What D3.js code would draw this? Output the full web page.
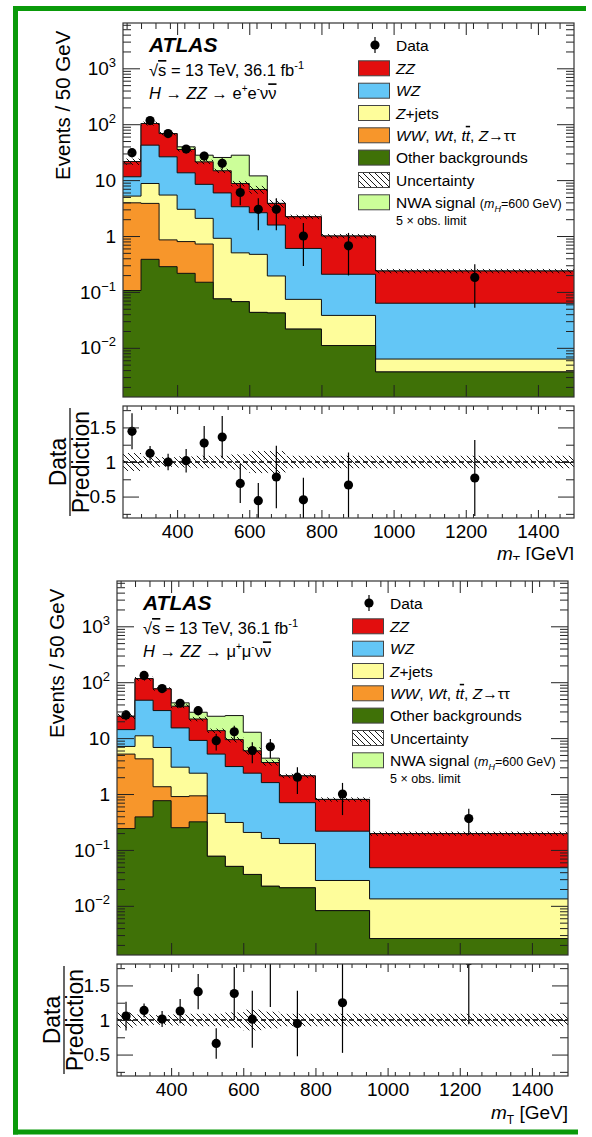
<!DOCTYPE html>
<html>
<head>
<meta charset="utf-8">
<script src="https://cdn.jsdelivr.net/npm/d3@7"></script>
<style>
  body { margin: 0; background: #fff; }
  svg text { font-family: "Liberation Sans", Arial, Helvetica, sans-serif; fill: #000; }
</style>
</head>
<body>
<svg id="chart" width="592" height="1137"></svg>
<script>
// ---------- binning (GeV) ----------
const binEdges = [250, 300, 350, 400, 450, 500, 550, 600, 650, 700, 800, 950, 1500];

// ---------- ee channel: events / 50 GeV ----------
const eeOther  = [0.106, 0.383, 0.283, 0.215, 0.149, 0.075, 0.067, 0.043, 0.042, 0.0216, 0.011, 0.0037];
const eeTopBkg = [3.82, 3.45, 0.57, 0.58, 0.57, 0, 0, 0, 0, 0, 0, 0];
const eeZjets  = [1.25, 4.87, 4.55, 2.21, 1.35, 0.835, 0.433, 0.427, 0.151, 0.052, 0.027, 0.0026];
const eeWZ     = [6.3, 33.5, 20.7, 10.5, 6.33, 4.99, 2.84, 2.14, 1.38, 0.526, 0.169, 0.0565];
const eeZZ     = [10.0, 60.8, 41.9, 21.8, 12.8, 8.8, 5.36, 4.19, 2.26, 1.61, 0.793, 0.174];
const eeSignal = [0, 0, 0, 4.1, 6.7, 10.7, 19.2, 5.1, 0, 0, 0, 0];
const eeUnc    = [0.13, 0.08, 0.07, 0.08, 0.09, 0.09, 0.11, 0.16, 0.16, 0.09, 0.09, 0.09];
const eeData   = [31, 116, 68, 36, 27, 20, 6, 3, 3, 1.0, 0.667, 0.182];
const eeDataErr = [5.6, 10.8, 8.2, 6.0, 5.2, 4.5, 2.45, 1.73, 1.73, 0.71, 0.47, 0.13];

// ---------- mumu channel: events / 50 GeV ----------
const mmOther  = [0.241, 0.39, 0.76, 0.25, 0.318, 0.077, 0.0507, 0.0364, 0.0224, 0.021, 0.0082, 0.0026];
const mmTopBkg = [4.94, 3.87, 0.59, 0.65, 0.61, 0, 0, 0, 0, 0, 0, 0];
const mmZjets  = [1.92, 6.74, 5.45, 2.12, 1.43, 0.373, 0.259, 0.169, 0.138, 0.109, 0.0202, 0.0107];
const mmWZ     = [7.1, 36.6, 24.3, 12.2, 6.74, 4.73, 2.79, 2.155, 1.44, 0.57, 0.188, 0.0347];
const mmZZ     = [10.4, 68.4, 44.9, 22.0, 12.9, 8.42, 6.3, 3.57, 2.06, 1.41, 0.584, 0.148];
const mmSignal = [0, 0, 0, 5.5, 7.0, 11.0, 15.9, 6.8, 0.72, 0, 0, 0];
const mmUnc    = [0.11, 0.08, 0.07, 0.08, 0.09, 0.09, 0.11, 0.15, 0.12, 0.09, 0.09, 0.09];
const mmData   = [26, 132, 77, 42, 31, 9, 13, 6, 7, 2.0, 1.0, 0.364];
const mmDataErr = [5.1, 11.5, 8.8, 6.5, 5.6, 3.0, 3.6, 2.45, 2.65, 1.0, 0.58, 0.18];

// ---------- axes ----------
const xDomain = [250, 1500];
const xMajorTicks = [400, 600, 800, 1000, 1200, 1400];
const yMainTicks = [1e-2, 1e-1, 1, 10, 100, 1000];
const ratioTicks = [0.5, 1, 1.5];
const ratioMinorTicks = [0.25, 0.75, 1.25, 1.75];

// ---------- colours ----------
const colOther = "#3f7107", colTop = "#f7962b", colZjets = "#fefd9b",
      colWZ = "#63c6f6", colZZ = "#e20e0e", colSignal = "#ccfe99";

const svg = d3.select("#chart");
const defs = svg.append("defs");
const hatch = defs.append("pattern").attr("id", "hatch")
  .attr("patternUnits", "userSpaceOnUse").attr("width", 6).attr("height", 6);
hatch.append("path").attr("d", "M-1,-1L7,7M5,-1L7,1M-1,5L1,7")
  .attr("stroke", "#000").attr("stroke-width", 0.9);

// green border
const border = svg.append("g").attr("fill", "none").attr("stroke", "#0a9a0a").attr("stroke-width", 5);
border.append("line").attr("x1", 15.5).attr("y1", 6).attr("x2", 15.5).attr("y2", 1134.5);
border.append("line").attr("x1", 13).attr("y1", 8.5).attr("x2", 586).attr("y2", 8.5);
border.append("line").attr("x1", 13).attr("y1", 1132).attr("x2", 578).attr("y2", 1132);

// rich-text helper: segments of [text, flags]
function rich(parent, x, y, size, segs, anchor) {
  const t = parent.append("text").attr("x", x).attr("y", y)
    .attr("font-size", size).attr("text-anchor", anchor || "start");
  let shift = 0;
  segs.forEach(([s, f = {}]) => {
    const sp = t.append("tspan").text(s);
    let target = 0;
    if (f.sup) target = -size * 0.42;
    if (f.sub) target = size * 0.25;
    if (target !== shift) { sp.attr("dy", target - shift); shift = target; }
    if (f.size || f.sup || f.sub) sp.attr("font-size", f.size || size * 0.65);
    if (f.i) sp.attr("font-style", "italic");
    if (f.b) sp.attr("font-weight", "bold");
    if (f.ov) sp.style("text-decoration", "overline");
  });
  return t;
}

function drawPanel(cfg) {
  const W = 451, H = 374, R0 = 383, RH = 112;
  const g = svg.append("g").attr("transform", `translate(${cfg.x0},${cfg.y0})`);
  if (cfg.clip) g.attr("clip-path", `url(#${cfg.clip})`);
  const x = d3.scaleLinear().domain(xDomain).range([0, W]);
  const y = d3.scaleLog().domain([1.32e-3, 6.46e3]).range([H, 0]);
  const yr = d3.scaleLinear().domain([0.19, 1.81]).range([RH, 0]);

  const nb = cfg.zz.length;
  const comps = [cfg.other, cfg.topbkg, cfg.zjets, cfg.wz, cfg.zz];
  const cum = [];
  let run = new Array(nb).fill(0);
  comps.forEach(c => { run = run.map((v, i) => v + c[i]); cum.push(run.slice()); });
  const total = cum[cum.length - 1];
  const withSig = total.map((v, i) => v + cfg.signal[i]);

  const stepArea = vals => {
    let d = `M${x(binEdges[0])},${H}`;
    vals.forEach((v, i) => { d += `V${y(v)}H${x(binEdges[i + 1])}`; });
    return d + `V${H}Z`;
  };
  const stepLine = vals => {
    let d = "";
    vals.forEach((v, i) => { d += (i === 0 ? `M${x(binEdges[0])},${y(v)}` : `V${y(v)}`) + `H${x(binEdges[i + 1])}`; });
    return d;
  };

  const main = g.append("g");
  const layers = [
    [withSig, colSignal], [cum[4], colZZ], [cum[3], colWZ],
    [cum[2], colZjets], [cum[1], colTop], [cum[0], colOther]
  ];
  layers.forEach(([vals, col]) => {
    main.append("path").attr("d", stepArea(vals)).attr("fill", col);
    main.append("path").attr("d", stepLine(vals)).attr("fill", "none")
      .attr("stroke", "#111").attr("stroke-width", 1);
  });

  // uncertainty band on total background
  main.selectAll("rect.unc").data(total).join("rect")
    .attr("x", (d, i) => x(binEdges[i])).attr("width", (d, i) => x(binEdges[i + 1]) - x(binEdges[i]))
    .attr("y", (d, i) => y(d * (1 + cfg.unc[i])))
    .attr("height", (d, i) => y(d * (1 - cfg.unc[i])) - y(d * (1 + cfg.unc[i])))
    .attr("fill", "url(#hatch)");

  // data points
  const centers = binEdges.slice(0, -1).map((e, i) => (e + binEdges[i + 1]) / 2);
  const pts = main.append("g");
  cfg.data.forEach((v, i) => {
    pts.append("line").attr("x1", x(centers[i])).attr("x2", x(centers[i]))
      .attr("y1", y(v + cfg.err[i])).attr("y2", y(Math.max(v - cfg.err[i], 1e-4)))
      .attr("stroke", "#000").attr("stroke-width", 1.2);
    pts.append("circle").attr("cx", x(centers[i])).attr("cy", y(v)).attr("r", 4.6).attr("fill", "#000");
  });

  // axes of main pad (ticks inside)
  const minorY = [];
  for (let e = -3; e <= 3; e++) for (let m = 2; m <= 9; m++) {
    const v = m * Math.pow(10, e);
    if (v > y.domain()[0] && v < y.domain()[1]) minorY.push(v);
  }
  const minorX = d3.range(260, 1500, 40).filter(v => !xMajorTicks.includes(v));
  const ax = g.append("g").attr("class", "axes");
  const strip = s => { s.select(".domain").remove(); s.selectAll(".tick line").attr("stroke", "#222"); };
  ax.append("g").call(d3.axisLeft(y).tickValues(minorY).tickSize(-8).tickFormat("")).call(strip);
  ax.append("g").attr("transform", `translate(${W},0)`).call(d3.axisRight(y).tickValues(minorY).tickSize(-8).tickFormat("")).call(strip);
  ax.append("g").attr("transform", `translate(${W},0)`).call(d3.axisRight(y).tickValues(yMainTicks).tickSize(-17).tickFormat("")).call(strip);
  ax.append("g").call(d3.axisTop(x).tickValues(minorX).tickSize(-6).tickFormat("")).call(strip);
  ax.append("g").call(d3.axisTop(x).tickValues(xMajorTicks).tickSize(-12).tickFormat("")).call(strip);
  ax.append("g").attr("transform", `translate(0,${H})`).call(d3.axisBottom(x).tickValues(xMajorTicks).tickSize(-12).tickFormat("")).call(strip);
  const yl = ax.append("g").call(d3.axisLeft(y).tickValues(yMainTicks).tickSize(-17).tickPadding(7)).call(strip);
  yl.selectAll(".tick text").each(function (d) {
    const t = d3.select(this).text(null).attr("font-size", 19).attr("font-family", null);
    const e = Math.round(Math.log10(d));
    if (e === 0) t.text("1");
    else if (e === 1) t.text("10");
    else {
      t.append("tspan").text("10");
      t.append("tspan").attr("dy", -8).attr("font-size", 13).text(e < 0 ? "\u2212" + (-e) : String(e));
    }
  });
  g.append("rect").attr("width", W).attr("height", H).attr("fill", "none").attr("stroke", "#333").attr("stroke-width", 1.2);

  // y title
  g.append("text").attr("transform", `translate(${cfg.titleX},${H * 0.22}) rotate(-90)`)
    .attr("text-anchor", "middle").attr("font-size", 20.5).text("Events / 50 GeV");

  // labels
  rich(g, 26, 28.7, 21, [["ATLAS", { b: true, i: true }]]);
  rich(g, 26, 53, 16.5, [["\u221A"], ["s", { ov: true }], [" = 13 TeV, 36.1 fb"], ["-1", { sup: true, size: 11 }]]);
  rich(g, 26, 76.3, 16.5, cfg.channel);

  // legend
  const lg = g.append("g");
  const rowY = [22, 45.3, 67.7, 90, 112.3, 134.6, 157, 179.3];
  lg.append("line").attr("x1", 252).attr("x2", 252).attr("y1", rowY[0] - 8).attr("y2", rowY[0] + 8).attr("stroke", "#000").attr("stroke-width", 1.2);
  lg.append("circle").attr("cx", 252).attr("cy", rowY[0]).attr("r", 4.6);
  const boxes = [colZZ, colWZ, colZjets, colTop, colOther, "url(#hatch)", colSignal];
  boxes.forEach((c, i) => {
    if (i === 5) lg.append("rect").attr("x", 235.5).attr("y", rowY[i + 1] - 7.5).attr("width", 31).attr("height", 15).attr("fill", "#fff");
    lg.append("rect").attr("x", 235.5).attr("y", rowY[i + 1] - 7.5).attr("width", 31).attr("height", 15)
      .attr("fill", c).attr("stroke", "#444").attr("stroke-width", 1);
  });
  const labels = [
    [["Data"]],
    [["ZZ", { i: true }]],
    [["WZ", { i: true }]],
    [["Z", { i: true }], ["+jets"]],
    [["WW", { i: true }], [", "], ["Wt", { i: true }], [", "], ["t", { i: true }], ["t", { i: true, ov: true }], [", "], ["Z", { i: true }], ["\u2192\u03C4\u03C4"]],
    [["Other backgrounds"]],
    [["Uncertainty"]],
    [["NWA signal "], ["(", { size: 12.5 }], ["m", { size: 12.5, i: true }], ["H", { sub: true, i: true, size: 9 }], ["=600 GeV)", { size: 12.5 }]]
  ];
  labels.forEach((segs, i) => rich(lg, 273, rowY[i] + 5.5, 15.5, segs));
  rich(lg, 273, 201.5, 12.5, [["5 \u00D7 obs. limit"]]);

  // ---------- ratio pad ----------
  const rg = g.append("g").attr("transform", `translate(0,${R0})`);
  const clipId = cfg.name + "-rclip";
  defs.append("clipPath").attr("id", clipId).append("rect").attr("width", W).attr("height", RH);
  const rin = rg.append("g").attr("clip-path", `url(#${clipId})`);
  rin.selectAll("rect.band").data(total).join("rect")
    .attr("x", (d, i) => x(binEdges[i])).attr("width", (d, i) => x(binEdges[i + 1]) - x(binEdges[i]))
    .attr("y", (d, i) => yr(1 + cfg.unc[i])).attr("height", (d, i) => yr(1 - cfg.unc[i]) - yr(1 + cfg.unc[i]))
    .attr("fill", "url(#hatch)");
  rin.append("line").attr("x1", 0).attr("x2", W).attr("y1", yr(1)).attr("y2", yr(1))
    .attr("stroke", "#000").attr("stroke-width", 1.3).attr("stroke-dasharray", "5,3");
  cfg.data.forEach((v, i) => {
    const r = v / total[i], re = cfg.err[i] / total[i];
    rin.append("line").attr("x1", x(centers[i])).attr("x2", x(centers[i]))
      .attr("y1", yr(r + re)).attr("y2", yr(r - re)).attr("stroke", "#000").attr("stroke-width", 1.2);
    rin.append("circle").attr("cx", x(centers[i])).attr("cy", yr(r)).attr("r", 4.6);
  });
  const rax = rg.append("g");
  rax.append("g").call(d3.axisLeft(yr).tickValues(ratioMinorTicks).tickSize(-8).tickFormat("")).call(strip);
  rax.append("g").attr("transform", `translate(${W},0)`).call(d3.axisRight(yr).tickValues(ratioMinorTicks).tickSize(-8).tickFormat("")).call(strip);
  rax.append("g").attr("transform", `translate(${W},0)`).call(d3.axisRight(yr).tickValues(ratioTicks).tickSize(-16).tickFormat("")).call(strip);
  rax.append("g").call(d3.axisTop(x).tickValues(minorX).tickSize(-4).tickFormat("")).call(strip);
  rax.append("g").call(d3.axisTop(x).tickValues(xMajorTicks).tickSize(-8).tickFormat("")).call(strip);
  rax.append("g").attr("transform", `translate(0,${RH})`).call(d3.axisBottom(x).tickValues(minorX).tickSize(-4).tickFormat("")).call(strip);
  const xb = rax.append("g").attr("transform", `translate(0,${RH})`)
    .call(d3.axisBottom(x).tickValues(xMajorTicks).tickSize(-8).tickPadding(5.5).tickFormat(d3.format("d"))).call(strip);
  xb.selectAll(".tick text").attr("font-size", 19).attr("font-family", null).attr("dy", "0.75em");
  const ryl = rax.append("g").call(d3.axisLeft(yr).tickValues(ratioTicks).tickSize(-16).tickPadding(7)
    .tickFormat(d => d === 1 ? "1" : String(d))).call(strip);
  ryl.selectAll(".tick text").attr("font-size", 19).attr("font-family", null);
  rg.append("rect").attr("width", W).attr("height", RH).attr("fill", "none").attr("stroke", "#333").attr("stroke-width", 1.2);

  // ratio y title (fraction)
  const fr = rg.append("g").attr("transform", `translate(-53,${RH / 2}) rotate(-90)`);
  fr.append("text").attr("text-anchor", "middle").attr("y", -4).attr("font-size", 23).text("Data");
  fr.append("line").attr("x1", -54).attr("x2", 54).attr("y1", 0).attr("y2", 0).attr("stroke", "#000").attr("stroke-width", 1.2);
  fr.append("text").attr("text-anchor", "middle").attr("y", 19).attr("font-size", 23).text("Prediction");

  // x title
  rich(rg, W, RH + cfg.xTitleDy, 19, [["m", { i: true }], ["T", { sub: true, size: 12 }], [" [GeV]"]], "end");
}

defs.append("clipPath").attr("id", "top-clip").append("rect").attr("x", -200).attr("y", -30).attr("width", 800).attr("height", 567);

drawPanel({
  name: "ee", x0: 123, y0: 23, titleX: -53, clip: "top-clip", xTitleDy: 42,
  other: eeOther, topbkg: eeTopBkg, zjets: eeZjets, wz: eeWZ, zz: eeZZ, signal: eeSignal,
  unc: eeUnc, data: eeData, err: eeDataErr,
  channel: [["H", { i: true }], [" \u2192 "], ["ZZ", { i: true }], [" \u2192 e"], ["+", { sup: true, size: 10 }], ["e"], ["-", { sup: true, size: 10 }], ["\u03BD"], ["\u03BD", { ov: true }]]
});
drawPanel({
  name: "mm", x0: 117, y0: 581, titleX: -53, xTitleDy: 43,
  other: mmOther, topbkg: mmTopBkg, zjets: mmZjets, wz: mmWZ, zz: mmZZ, signal: mmSignal,
  unc: mmUnc, data: mmData, err: mmDataErr,
  channel: [["H", { i: true }], [" \u2192 "], ["ZZ", { i: true }], [" \u2192 \u03BC"], ["+", { sup: true, size: 10 }], ["\u03BC"], ["-", { sup: true, size: 10 }], ["\u03BD"], ["\u03BD", { ov: true }]]
});
</script>
</body>
</html>
